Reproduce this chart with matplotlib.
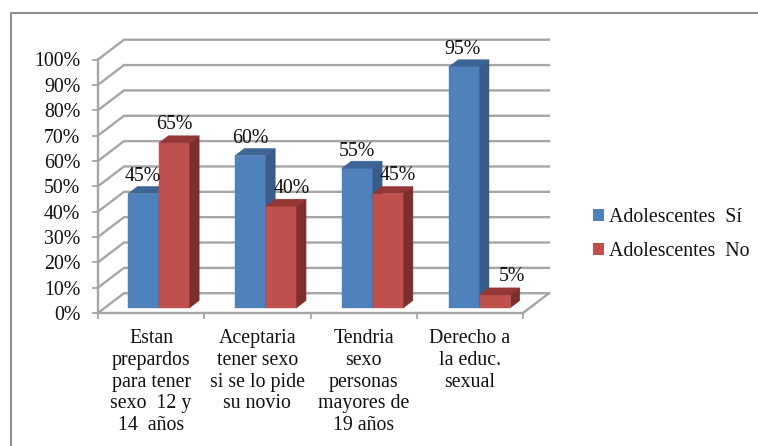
import matplotlib
import matplotlib.pyplot as plt
from matplotlib.lines import Line2D
from matplotlib.patches import Patch, Polygon

matplotlib.use('Agg')
plt.rcParams['font.family'] = ['Liberation Serif', 'DejaVu Serif']

categories = [
    'Estan\nprepardos\npara tener\nsexo  12 y\n14  años',
    'Aceptaria\ntener sexo\nsi se lo pide\nsu novio',
    'Tendria\nsexo\npersonas\nmayores de\n19 años',
    'Derecho a\nla educ.\nsexual',
]
series_names = ['Adolescentes  Sí', 'Adolescentes  No']
si_values = [45, 60, 55, 95]
no_values = [65, 40, 45, 5]
y_ticks = [0, 10, 20, 30, 40, 50, 60, 70, 80, 90, 100]

W, H = 758, 446
fig = plt.figure(figsize=(W / 100, H / 100), dpi=100)
ax = fig.add_axes([98 / W, 1 - 313 / H, 425 / W, 253.5 / H])
ax.set_xlim(0, 4)
ax.set_ylim(0, 100)
ax.patch.set_visible(False)

GRID = '#a6a6a6'
# depth of the 3d box, in data units
DX = 26 / 106.25
DY = 7.8


def project(x, y, t):
    return (x + t * DX, y + t * DY)


# walls
for v in y_ticks:
    ax.plot(*zip(project(0, v, 0), project(0, v, 1), project(4, v, 1)),
            color=GRID, lw=1.7, clip_on=False, zorder=1, solid_joinstyle='miter')
ax.plot(*zip(project(4, 0, 0), project(4, 0, 1)), color=GRID, lw=1.7, clip_on=False, zorder=1)

# bars
BAR_W = 0.29
T0, T1 = 0.27, 0.63
colors = [('#4f81bd', '#3c6494', '#385d8a'), ('#c0504d', '#953735', '#7d2f2d')]


def center(i):
    # bars drift slightly right of the category slots
    return i * 1.006 + 0.508


def draw_bar(left, value, cols):
    right = left + BAR_W
    front = [project(left, 0, T0), project(right, 0, T0), project(right, value, T0), project(left, value, T0)]
    top = [project(left, value, T0), project(right, value, T0), project(right, value, T1), project(left, value, T1)]
    side = [project(right, 0, T0), project(right, 0, T1), project(right, value, T1), project(right, value, T0)]
    for pts, c in zip((front, top, side), cols):
        ax.add_patch(Polygon(pts, closed=True, facecolor=c, edgecolor=c, lw=0.3, clip_on=False, zorder=3))


for i in range(len(categories)):
    draw_bar(center(i) - BAR_W, si_values[i], colors[0])
    draw_bar(center(i), no_values[i], colors[1])

# data labels, x nudges in pixels
si_nudge = [-1, 0, 0, -2]
no_nudge = [0, 10, 10, 17]
for i in range(len(categories)):
    for vals, nudge, shift, gap in ((si_values, si_nudge, -BAR_W / 2, 17), (no_values, no_nudge, BAR_W / 2, 18)):
        px, py = project(center(i) + shift, vals[i], T0)
        ax.annotate(f'{vals[i]}%', (px, py), xytext=(nudge[i], gap), textcoords='offset pixels',
                    ha='center', va='center', fontsize=14.3, color='#111111', zorder=5,
                    annotation_clip=False)

# axes
for name in ('top', 'right'):
    ax.spines[name].set_visible(False)
for name in ('left', 'bottom'):
    ax.spines[name].set_color(GRID)
    ax.spines[name].set_linewidth(1.7)
    ax.spines[name].set_zorder(2)
ax.set_yticks(y_ticks, [f'{v}%' for v in y_ticks], fontsize=14.3, color='#111111')
ax.tick_params(axis='y', length=4.3, width=1.3, color=GRID, pad=8.5)
ax.set_xticks(range(5), [''] * 5)
ax.tick_params(axis='x', which='major', length=4.3, width=1.3, color=GRID)
ax.set_xticks([i + 0.5 for i in range(4)], categories, minor=True, fontsize=14.3, color='#111111',
              linespacing=1.2)
ax.tick_params(axis='x', which='minor', length=0, pad=11.5)

# legend
handles = [Patch(facecolor=colors[0][0], label=series_names[0]),
           Patch(facecolor=colors[1][0], label=series_names[1])]
fig.legend(handles=handles, loc='center left', bbox_to_anchor=(575 / W, 1 - 234.5 / H), frameon=False,
           fontsize=14.3, handlelength=0.56, handleheight=0.56, handletextpad=0.25, labelspacing=0.79,
           labelcolor='#111111')

# outer chart border, cut by the image edge
fig.add_artist(Line2D([11 / W, 11 / W, 1], [0, 1 - 13 / H, 1 - 13 / H], color='#8c8c8c', lw=1.4))

plt.savefig('out.png', dpi=100)
